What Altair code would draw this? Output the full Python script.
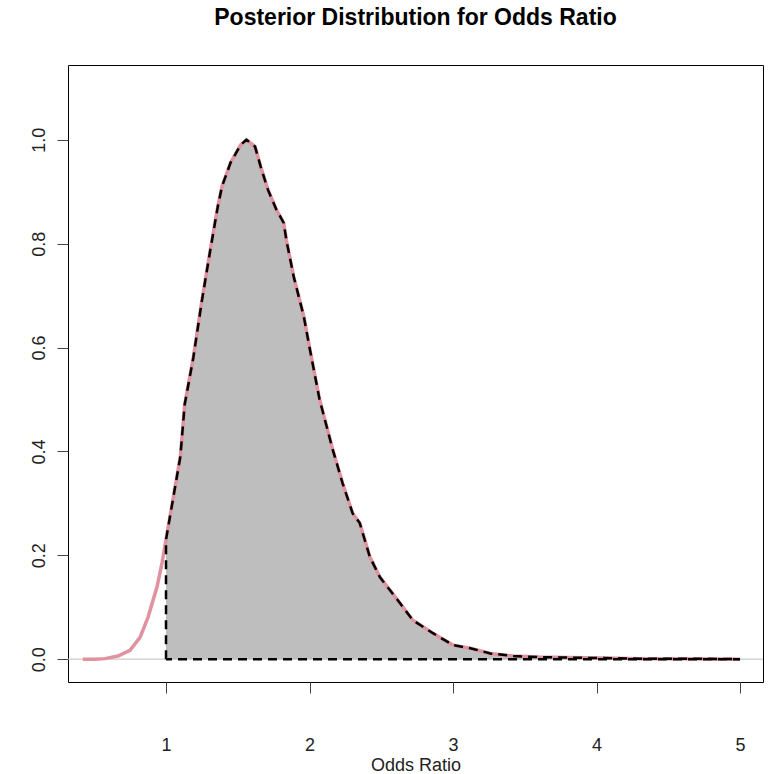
import altair as alt
import pandas as pd

# Density curve (normalised to max 1)
odds = [0.42, 0.50, 0.575, 0.665, 0.749, 0.819, 0.875, 0.937, 0.972, 1.00, 1.05, 1.10, 1.13,
        1.19, 1.25, 1.31, 1.36, 1.39, 1.45, 1.52, 1.56, 1.62, 1.66, 1.71, 1.77, 1.82, 1.84,
        1.89, 1.96, 2.00, 2.07, 2.16, 2.23, 2.30, 2.35, 2.42, 2.49, 2.63, 2.72, 2.86, 3.00,
        3.12, 3.26, 3.42, 3.60, 3.80, 4.05, 4.30, 4.60, 5.00]
dens = [0.000, 0.000, 0.001, 0.006, 0.017, 0.042, 0.081, 0.139, 0.185, 0.230, 0.310, 0.390, 0.490,
        0.580, 0.690, 0.790, 0.870, 0.910, 0.956, 0.990, 1.000, 0.987, 0.948, 0.904, 0.865, 0.840, 0.805,
        0.736, 0.660, 0.600, 0.500, 0.405, 0.339, 0.281, 0.262, 0.197, 0.158, 0.108, 0.075, 0.050, 0.027,
        0.021, 0.011, 0.006, 0.004, 0.003, 0.002, 0.001, 0.001, 0.000]

x_ticks = [1, 2, 3, 4, 5]
y_ticks = [0.0, 0.2, 0.4, 0.6, 0.8, 1.0]
lower = 1.0
upper = 5.0

curve = pd.DataFrame({"x": odds, "y": dens})
shade = curve[(curve.x >= lower) & (curve.x <= upper)].reset_index(drop=True)

# polygon outline: (1,0) -> up -> along curve -> down to (5,0) -> back to (1,0)
poly_x = [lower] + list(shade.x) + [upper, lower]
poly_y = [0.0] + list(shade.y) + [0.0, 0.0]
poly = pd.DataFrame({"x": poly_x, "y": poly_y, "o": list(range(len(poly_x)))})

xs = alt.Scale(domain=[0.317, 5.16], nice=False, zero=False)
ys = alt.Scale(domain=[-0.044, 1.144], nice=False, zero=False)

X = alt.X("x:Q", scale=xs,
          axis=alt.Axis(values=x_ticks, format="d", title="Odds Ratio", titlePadding=2))
Y = alt.Y("y:Q", scale=ys,
          axis=alt.Axis(values=y_ticks, format=".1f", title=None, labelAngle=270,
                        labelAlign="center", labelBaseline="bottom", labelPadding=9))

hline = alt.Chart(pd.DataFrame({"y": [0.0]})).mark_rule(color="#BEBEBE", strokeWidth=1).encode(
    y=alt.Y("y:Q", scale=ys))

area = alt.Chart(shade).mark_area(color="#BEBEBE", opacity=1).encode(
    x=X, y=Y, y2=alt.datum(0))

pink = alt.Chart(curve).mark_line(color="#E0929F", strokeWidth=3.5, clip=True).encode(x=X, y=Y)

dashed = alt.Chart(poly).mark_line(color="black", strokeWidth=2.5, strokeDash=[9, 6],
                                   clip=True).encode(x=X, y=Y, order="o:Q")

chart = alt.layer(hline, area, pink, dashed).properties(
    width=695, height=617,
    padding={"left": 68, "top": 65, "right": 6, "bottom": 92},
    autosize=alt.AutoSizeParams(type="none"),
    title=alt.TitleParams("Posterior Distribution for Odds Ratio", font="Liberation Sans",
                          fontSize=23, fontWeight="bold", color="black", anchor="middle",
                          offset=35),
).configure_view(stroke="black", strokeWidth=1).configure_axis(
    grid=False, domain=False, tickSize=11, tickColor="#444", tickWidth=1,
    labelFont="Liberation Sans", labelFontSize=18, labelColor="#222",
    titleFont="Liberation Sans", titleFontSize=18, titleFontWeight="normal", titleColor="#222",
).configure_axisX(labelPadding=43)

chart.save("out.html", embed_options={"renderer": "svg", "actions": False})
